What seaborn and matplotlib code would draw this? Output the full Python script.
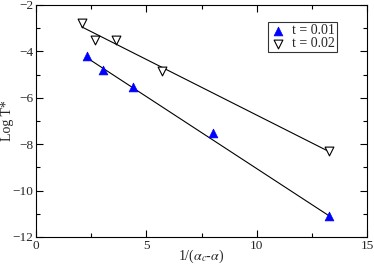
import numpy as np
import pandas as pd
import matplotlib
matplotlib.use("Agg")
import matplotlib.pyplot as plt
import seaborn as sns

# data
x_t01 = [2.31, 3.04, 4.40, 8.02, 13.30]
y_t01 = [-4.20, -4.80, -5.53, -7.52, -11.09]
x_t02 = [2.08, 2.67, 3.62, 5.71, 13.30]
y_t02 = [-2.78, -3.50, -3.50, -4.84, -8.30]

# fitted lines (endpoints)
fit01_x = [2.31, 13.30]
fit01_y = [-4.28, -11.10]
fit02_x = [2.08, 13.30]
fit02_y = [-2.95, -8.33]

sns.set_theme(style="ticks")
plt.rcParams["font.family"] = ["Liberation Serif", "DejaVu Serif"]
plt.rcParams["mathtext.fontset"] = "stix"

fig = plt.figure(figsize=(3.74, 2.68), dpi=100)
ax = fig.add_axes([0.0963, 0.1157, 0.885, 0.866])

ax.plot(fit01_x, fit01_y, color="black", lw=0.8, zorder=1)
ax.plot(fit02_x, fit02_y, color="black", lw=0.8, zorder=1)

df1 = pd.DataFrame({"x": x_t01, "y": y_t01})
df2 = pd.DataFrame({"x": x_t02, "y": y_t02})
sns.scatterplot(data=df1, x="x", y="y", marker="^", s=40, color="#0000ff",
                edgecolor="#0000ff", linewidth=0.5, ax=ax, label="t = 0.01", zorder=3)
sns.scatterplot(data=df2, x="x", y="y", marker="v", s=40, facecolor="white",
                edgecolor="black", linewidth=0.8, ax=ax, label="t = 0.02", zorder=3)

ax.set_xlim(0, 15)
ax.set_ylim(-12, -2)
ax.set_xticks([0, 5, 10, 15])
ax.set_xticks([2.5, 7.5, 12.5], minor=True)
ax.set_yticks([-12, -10, -8, -6, -4, -2])
ax.set_yticks([-11, -9, -7, -5, -3], minor=True)
ax.tick_params(which="both", direction="in", top=True, right=True,
               labelsize=9.5, width=0.8, color="black", pad=2)
ax.tick_params(which="major", length=5)
ax.tick_params(which="minor", length=3)
for s in ax.spines.values():
    s.set_linewidth(0.8)
    s.set_color("black")

ax.set_xlabel(r"1/($\alpha_c$-$\alpha$)", fontsize=10)
ax.set_ylabel("Log T*", fontsize=10)
ax.xaxis.set_label_coords(0.5, -0.045)
ax.yaxis.set_label_coords(-0.068, 0.5)

leg = ax.legend(loc="upper right", bbox_to_anchor=(0.91, 0.925), fontsize=10,
                frameon=True, fancybox=False, edgecolor="black",
                handletextpad=0.4, borderpad=0.15, labelspacing=0.0,
                handlelength=1.2, borderaxespad=0)
leg.get_frame().set_linewidth(0.8)

fig.savefig("out.png", dpi=100)
